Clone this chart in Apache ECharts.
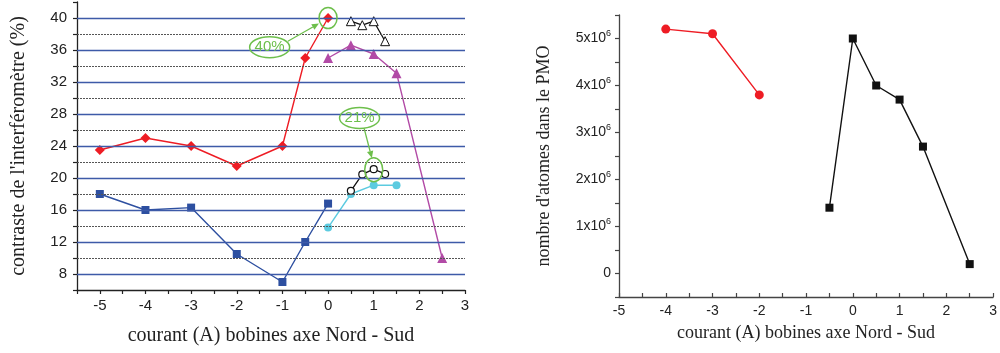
<!DOCTYPE html>
<html><head><meta charset="utf-8">
<script src="https://cdn.jsdelivr.net/npm/echarts@6/dist/echarts.min.js"></script>
<style>html,body{margin:0;padding:0;background:#fff}#c{width:1000px;height:353px}</style>
</head><body><div id="c"></div>
<script>
// ---- Left chart: contraste de l'interféromètre (%) ----
const redX = [-5, -4, -3, -2, -1, -0.5, 0];
const redY = [23.5, 25.0, 24.0, 21.5, 24.0, 35.0, 40.0];
const blueX = [-5, -4, -3, -2, -1, -0.5, 0];
const blueY = [18.0, 16.0, 16.3, 10.5, 7.0, 12.0, 16.8];
const cyanX = [0, 0.5, 1, 1.5];
const cyanY = [13.8, 18.0, 19.1, 19.1];
const openCircX = [0.5, 0.75, 1.0, 1.25];
const openCircY = [18.4, 20.45, 21.1, 20.5];
const openTriX = [0.5, 0.75, 1.0, 1.25];
const openTriY = [39.6, 39.1, 39.6, 37.1];
const magX = [0, 0.5, 1, 1.5, 2.5];
const magY = [35.0, 36.6, 35.5, 33.1, 10.0];
const majorGridY = [8, 12, 16, 20, 24, 28, 32, 36, 40];
const minorGridY = [10, 14, 18, 22, 26, 30, 34, 38];
const annotLabels = ['40%', '21%'];

// ---- Right chart: nombre d'atomes dans le PMO ----
const atomRedX = [-4, -3, -2];
const atomRedY = [5.2e6, 5.1e6, 3.8e6];
const atomBlackX = [-0.5, 0, 0.5, 1, 1.5, 2.5];
const atomBlackY = [1.4e6, 5.0e6, 4.0e6, 3.7e6, 2.7e6, 0.2e6];

const zip = (xs, ys) => xs.map((x, i) => [x, ys[i]]);
const SANS = '"Liberation Sans", Arial, sans-serif';
const SERIF = '"Liberation Serif", "Times New Roman", serif';
const GREEN = '#6dbf4b';

const chart = echarts.init(document.getElementById('c'));

const option = {
  animation: false,
  backgroundColor: '#fff',
  grid: [
    {left: 77, top: 2, width: 388, height: 288},
    {left: 619, top: 15, width: 377, height: 282}
  ],
  xAxis: [
    {gridIndex: 0, type: 'value', min: -5.5, max: 3, interval: 0.5,
     name: 'courant (A) bobines axe Nord - Sud', nameLocation: 'middle', nameGap: 36,
     nameTextStyle: {fontFamily: SERIF, fontSize: 20, color: '#222'},
     axisLine: {onZero: false, lineStyle: {color: '#222', width: 1.3}},
     axisTick: {inside: false, length: 4, lineStyle: {color: '#222', width: 1.2}},
     axisLabel: {fontFamily: SANS, fontSize: 15, color: '#222', margin: 8,
       formatter: v => (Math.abs(v - Math.round(v)) < 1e-9 ? String(Math.round(v)) : '')},
     splitLine: {show: false}},
    {gridIndex: 1, type: 'value', min: -5, max: 3, interval: 0.5,
     name: 'courant (A) bobines axe Nord - Sud', nameLocation: 'middle', nameGap: 27,
     nameTextStyle: {fontFamily: SERIF, fontSize: 18, color: '#222'},
     axisLine: {onZero: false, lineStyle: {color: '#444', width: 1.3}},
     axisTick: {inside: true, length: 4, lineStyle: {color: '#444', width: 1.2}},
     axisLabel: {fontFamily: SANS, fontSize: 14, color: '#222', margin: 7,
       formatter: v => (Math.abs(v - Math.round(v)) < 1e-9 ? String(Math.round(v)) : '')},
     splitLine: {show: false}}
  ],
  yAxis: [
    {gridIndex: 0, type: 'value', min: 6, max: 42, interval: 2,
     name: "contraste de l'interféromètre (%)", nameLocation: 'middle', nameGap: 48, nameRotate: 90,
     nameTextStyle: {fontFamily: SERIF, fontSize: 20, color: '#222'},
     axisLine: {show: true, onZero: false, lineStyle: {color: '#222', width: 1.3}},
     axisTick: {inside: false, length: 4, lineStyle: {color: '#222', width: 1.2}},
     axisLabel: {fontFamily: SANS, fontSize: 15, color: '#222', margin: 10,
       formatter: v => (v % 4 === 0 ? String(v) : '')},
     splitLine: {show: false}},
    {gridIndex: 1, type: 'value', min: -500000, max: 5500000, interval: 500000,
     name: "nombre d'atomes dans le PMO", nameLocation: 'middle', nameGap: 66, nameRotate: 90,
     nameTextStyle: {fontFamily: SERIF, fontSize: 18, color: '#222'},
     axisLine: {show: true, onZero: false, lineStyle: {color: '#444', width: 1.3}},
     axisTick: {inside: false, length: 4, lineStyle: {color: '#444', width: 1.2}},
     axisLabel: {fontFamily: SANS, fontSize: 14, color: '#222', margin: 8,
       formatter: v => {
         if (v === 0) return '0';
         if (v > 0 && v % 1000000 === 0) return '{b|' + (v / 1000000) + 'x10}{s|6}';
         return '';
       },
       rich: {b: {fontFamily: SANS, fontSize: 14, color: '#222'},
              s: {fontFamily: SANS, fontSize: 9, color: '#222', padding: [0, 0, 9, 0]}}},
     splitLine: {show: false}}
  ],
  series: [
    {type: 'line', xAxisIndex: 0, yAxisIndex: 0, data: [], silent: true, z: 1,
     markLine: {silent: true, symbol: 'none', label: {show: false},
       data: majorGridY.map(y => ({yAxis: y, lineStyle: {color: '#3d5aa8', width: 1.4, type: 'solid'}}))
         .concat(minorGridY.map(y => ({yAxis: y, lineStyle: {color: '#555', width: 1.2, type: [2, 1]}})))}},
    {type: 'line', name: 'red', xAxisIndex: 0, yAxisIndex: 0, data: zip(redX, redY), z: 3,
     symbol: 'diamond', symbolSize: 10, lineStyle: {color: '#ee1c24', width: 1.4}, itemStyle: {color: '#ee1c24'}},
    {type: 'line', name: 'blue', xAxisIndex: 0, yAxisIndex: 0, data: zip(blueX, blueY), z: 3,
     symbol: 'rect', symbolSize: 8, lineStyle: {color: '#2d4fa0', width: 1.4}, itemStyle: {color: '#2d4fa0'}},
    {type: 'line', name: 'cyan', xAxisIndex: 0, yAxisIndex: 0, data: zip(cyanX, cyanY), z: 3,
     symbol: 'circle', symbolSize: 8, lineStyle: {color: '#5ccbe0', width: 1.4}, itemStyle: {color: '#5ccbe0'}},
    {type: 'line', name: 'openCirc', xAxisIndex: 0, yAxisIndex: 0, data: zip(openCircX, openCircY), z: 4,
     symbol: 'circle', symbolSize: 7, lineStyle: {color: '#111', width: 1.3},
     itemStyle: {color: '#fff', borderColor: '#111', borderWidth: 1.2}},
    {type: 'line', name: 'openTri', xAxisIndex: 0, yAxisIndex: 0, data: zip(openTriX, openTriY), z: 4,
     symbol: 'triangle', symbolSize: 9, lineStyle: {color: '#111', width: 1.3},
     itemStyle: {color: '#fff', borderColor: '#111', borderWidth: 1}},
    {type: 'line', name: 'magenta', xAxisIndex: 0, yAxisIndex: 0, data: zip(magX, magY), z: 3,
     symbol: 'triangle', symbolSize: 10, lineStyle: {color: '#b24aa6', width: 1.4}, itemStyle: {color: '#b24aa6'}},
    {type: 'line', name: 'atomRed', xAxisIndex: 1, yAxisIndex: 1, data: zip(atomRedX, atomRedY), z: 3,
     symbol: 'circle', symbolSize: 9, lineStyle: {color: '#ee1c24', width: 1.4}, itemStyle: {color: '#ee1c24'}},
    {type: 'line', name: 'atomBlack', xAxisIndex: 1, yAxisIndex: 1, data: zip(atomBlackX, atomBlackY), z: 3,
     symbol: 'rect', symbolSize: 8, lineStyle: {color: '#111', width: 1.4}, itemStyle: {color: '#111'}}
  ]
};
chart.setOption(option);

// Annotations (positioned from data coordinates through the chart's scales)
const px = (x, y) => chart.convertToPixel({gridIndex: 0}, [x, y]);
const p40 = px(redX[6], redY[6]);
const p21 = px(openCircX[2], openCircY[2]);
const l40 = px(-1.28, 36.35);
const l21 = px(0.69, 27.5);
const a1s = px(-0.88, 37.1), a1e = px(-0.2, 39.3);
const a2s = px(0.79, 26.2), a2e = px(0.96, 22.5);

function arrow(s, e) {
  const ang = Math.atan2(e[1] - s[1], e[0] - s[0]);
  const L = 7, W = 3.2;
  const bx = e[0] - L * Math.cos(ang), by = e[1] - L * Math.sin(ang);
  const nx = -Math.sin(ang), ny = Math.cos(ang);
  return [
    {type: 'line', shape: {x1: s[0], y1: s[1], x2: bx, y2: by}, style: {stroke: GREEN, lineWidth: 1.3}, z: 10},
    {type: 'polygon', shape: {points: [[e[0], e[1]], [bx + nx * W, by + ny * W], [bx - nx * W, by - ny * W]]},
     style: {fill: GREEN}, z: 10}
  ];
}
const ell = (c, rx, ry) => ({type: 'ellipse', shape: {cx: c[0], cy: c[1], rx: rx, ry: ry},
  style: {fill: 'rgba(255,255,255,0)', stroke: GREEN, lineWidth: 1.5}, z: 10});
const lbl = (c, t) => ({type: 'text', x: c[0], y: c[1], z: 11,
  style: {text: t, fill: GREEN, font: '15px ' + SANS, align: 'center', verticalAlign: 'middle'}});

chart.setOption({graphic: [
  ell([p40[0], p40[1]], 9, 10.5),
  ell([p21[0], p21[1] + 0.5], 9, 12),
  ell(l40, 20, 10.5), lbl(l40, annotLabels[0]),
  ell(l21, 20, 10.5), lbl(l21, annotLabels[1]),
  ...arrow(a1s, a1e), ...arrow(a2s, a2e)
]});
</script></body></html>
